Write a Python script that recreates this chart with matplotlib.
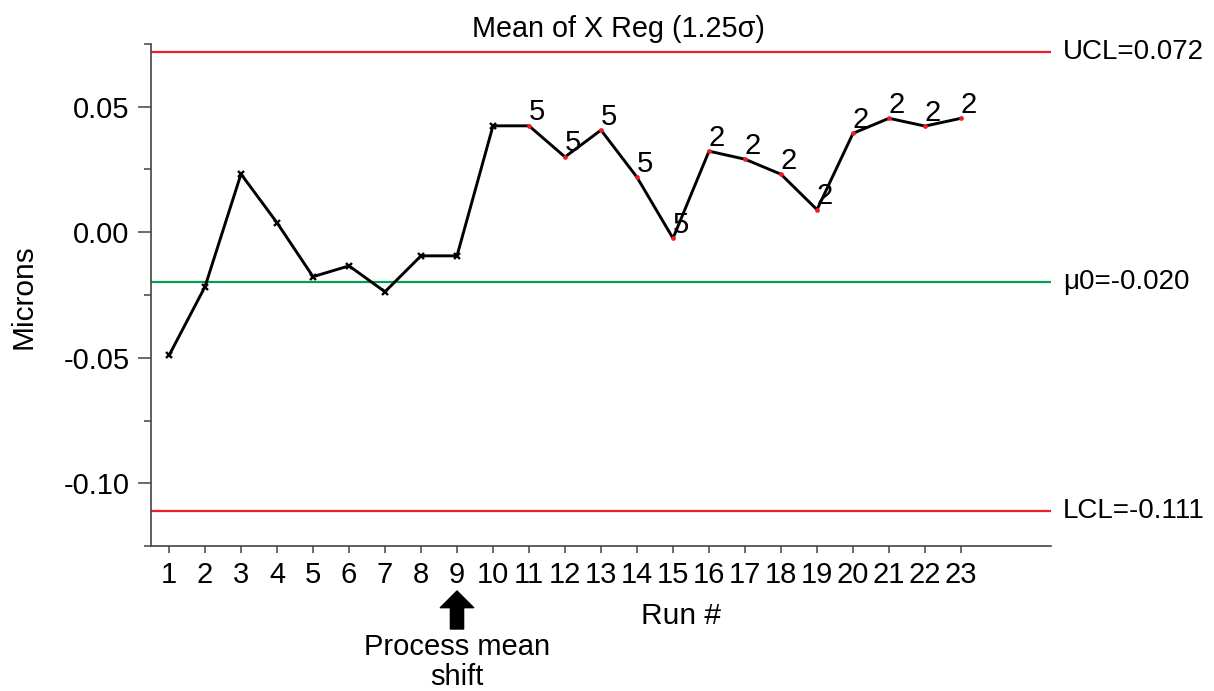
import matplotlib
matplotlib.use("Agg")
import matplotlib.pyplot as plt
from matplotlib.ticker import MultipleLocator, FixedLocator

plt.rcParams['font.family'] = ['Liberation Sans', 'DejaVu Sans']

# ---- data ----
runs = list(range(1, 24))
means = [-0.0491, -0.0217, 0.0232, 0.0038, -0.0177, -0.0134, -0.0237, -0.0094, -0.0094,
         0.0424, 0.0424, 0.0300, 0.0407, 0.0219, -0.0024, 0.0323, 0.0291, 0.0231, 0.0090,
         0.0394, 0.0454, 0.0423, 0.0454]
flags = ['', '', '', '', '', '', '', '', '', '',
         '5', '5', '5', '5', '5', '2', '2', '2', '2', '2', '2', '2', '2']
ucl = 0.072
lcl = -0.111
mu0 = -0.020
limit_labels = ['UCL=0.072', 'μ0=-0.020', 'LCL=-0.111']
title = 'Mean of X Reg (1.25σ)'
shift_run = 9

W, H = 1214, 691
fig = plt.figure(figsize=(W / 100, H / 100), dpi=100)
ax = fig.add_axes([151 / W, 1 - 546 / H, (1051 - 151) / W, (546 - 44) / H])

red = '#ee1c25'
green = '#00a050'

ax.axhline(ucl, color=red, lw=1.6, zorder=1)
ax.axhline(lcl, color=red, lw=1.6, zorder=1)
ax.axhline(mu0, color=green, lw=1.6, zorder=1)

ax.plot(runs, means, color='black', lw=2.1, zorder=2)
normal = [i for i, f in enumerate(flags) if f == '']
flagged = [i for i, f in enumerate(flags) if f != '']
ax.plot([runs[i] for i in normal], [means[i] for i in normal], ls='none',
        marker='x', ms=5, mew=1.7, color='black', zorder=3)
ax.plot([runs[i] for i in flagged], [means[i] for i in flagged], ls='none',
        marker='o', ms=3.4, mew=0, color=red, zorder=3)
for i in flagged:
    ax.annotate(flags[i], xy=(runs[i], means[i]), xytext=(0, 4), textcoords='offset points',
                ha='left', va='baseline', fontsize=21, zorder=4)

for val, lab in zip([ucl, mu0, lcl], limit_labels):
    ax.annotate(lab, xy=(1, val), xycoords=('axes fraction', 'data'), xytext=(8.5, 0),
                textcoords='offset points', ha='left', va='center', fontsize=20,
                annotation_clip=False)

ax.set_xlim(0.5, 25.5)
ax.set_ylim(-0.125, 0.075)
ax.xaxis.set_major_locator(FixedLocator(runs))
ax.set_xticklabels([str(r) for r in runs])
ax.yaxis.set_major_locator(MultipleLocator(0.05))
ax.yaxis.set_minor_locator(MultipleLocator(0.025))
ax.yaxis.set_major_formatter(plt.FuncFormatter(lambda v, p: f'{v:.2f}'.replace('-0.00', '0.00')))

for s in ['top', 'right']:
    ax.spines[s].set_visible(False)
for s in ['left', 'bottom']:
    ax.spines[s].set_color('#444444')
    ax.spines[s].set_linewidth(1.2)

ax.tick_params(axis='y', which='major', length=9.5, width=1.1, color='#444444', pad=6, labelsize=21)
ax.tick_params(axis='y', which='minor', length=5, width=1.1, color='#444444')
ax.tick_params(axis='x', which='major', length=5, width=1.1, color='#444444', pad=6, labelsize=21)

ax.set_title(title, fontsize=20.7, pad=5, x=(618 - 151) / 900)
fig.text(681 / W, 1 - 616 / H, 'Run #', ha='center', va='center', fontsize=21.5)
fig.text(23 / W, 1 - 297 / H, 'Microns', ha='center', va='center', rotation=90, fontsize=21.5)

ax.annotate('', xy=(shift_run, 1 - 591 / H), xycoords=('data', 'figure fraction'),
            xytext=(shift_run, 1 - 629 / H), textcoords=('data', 'figure fraction'),
            arrowprops=dict(arrowstyle='simple,head_length=12,head_width=24,tail_width=9.5',
                            mutation_scale=1, fc='black', ec='black', shrinkA=0, shrinkB=0),
            annotation_clip=False)
ax.annotate('Process mean\nshift', xy=(shift_run, 1 - 662 / H), xycoords=('data', 'figure fraction'),
            ha='center', va='center', fontsize=21, linespacing=1.1, annotation_clip=False)

fig.savefig('out.png', dpi=100)
